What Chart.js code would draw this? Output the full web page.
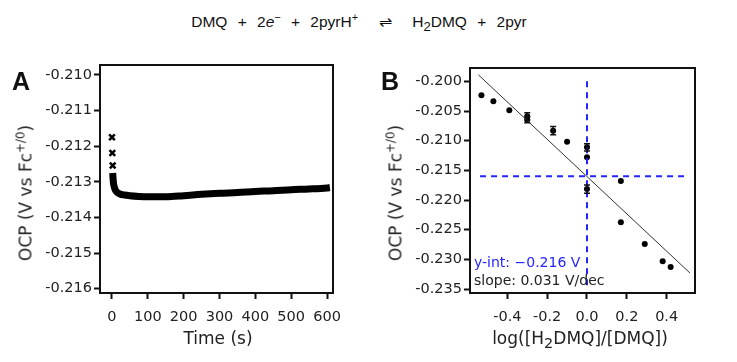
<!DOCTYPE html>
<html>
<head>
<meta charset="utf-8">
<script src="https://cdn.jsdelivr.net/npm/chart.js@4.4.1/dist/chart.umd.min.js"></script>
<style>
  html, body { margin: 0; padding: 0; background: #fff; }
  #wrap { position: relative; width: 737px; height: 362px; overflow: hidden; font-family: "DejaVu Sans", sans-serif; color: #222; }
  canvas { position: absolute; top: 0; }
  .lbl { position: absolute; white-space: nowrap; line-height: 1; }
  .rot { transform: translate(-50%, -50%) rotate(-90deg); font-size: 17px; }
  .xt { transform: translateX(-50%); font-size: 17px; }
  .sup { font-size: 0.7em; position: relative; top: -0.55em; }
  .sub { font-size: 0.85em; position: relative; top: 0.3em; }
  .panel { font-family: "Liberation Sans", Arial, sans-serif; font-weight: bold; font-size: 25px; color: #111; }
</style>
</head>
<body>
<div id="wrap">
  <div class="lbl" id="eq" style="left:0;width:718px;top:14px;text-align:center;font-family:'Liberation Sans',Arial,sans-serif;font-size:15.5px;line-height:15px;word-spacing:6px;color:#111">
    DMQ + 2<i>e</i><span class="sup">−</span> + 2pyrH<span class="sup">+</span> &nbsp;⇌&nbsp; H<span class="sub">2</span>DMQ + 2pyr
  </div>
  <canvas id="chartA" width="368" height="362" style="left:0"></canvas>
  <canvas id="chartB" width="369" height="362" style="left:368px"></canvas>
  <div class="lbl panel" style="left:12px;top:69px">A</div>
  <div class="lbl panel" style="left:381px;top:69px">B</div>
  <div class="lbl rot" style="left:26px;top:193px">OCP (V vs Fc<span class="sup">+/0</span>)</div>
  <div class="lbl rot" style="left:396px;top:193px">OCP (V vs Fc<span class="sup">+/0</span>)</div>
  <div class="lbl xt" style="left:218px;top:330px">Time (s)</div>
  <div class="lbl xt" style="left:580px;top:330px">log([H<span class="sub">2</span>DMQ]/[DMQ])</div>
  <div class="lbl" style="left:474px;top:255px;font-size:14px;color:#2424ff">y-int: −0.216 V</div>
  <div class="lbl" style="left:474px;top:273px;font-size:14px;color:#222">slope: 0.031 V/dec</div>
</div>
<script>
// panel A: OCP vs time
const timeTicks = [0, 100, 200, 300, 400, 500, 600];
const ocpTicksA = [-0.216, -0.215, -0.214, -0.213, -0.212, -0.211, -0.210];
const firstTimes = [0, 1, 2];
const firstOcp = [-0.21175, -0.21219, -0.21254];
const traceTimes = [2, 3, 4, 6, 9, 14, 22, 35, 50, 75, 100, 150, 200, 250, 300, 350, 400, 450, 500, 550, 600, 608];
const traceOcp = [-0.21275, -0.21290, -0.21302, -0.21313, -0.21322, -0.21329, -0.21334, -0.21337, -0.21339, -0.21341, -0.21342,
  -0.21342, -0.21339, -0.21335, -0.21332, -0.21330, -0.21327, -0.21325, -0.21322, -0.21320, -0.21317, -0.21316];

// panel B: OCP vs log ratio
const logTicks = [-0.4, -0.2, 0, 0.2, 0.4];
const ocpTicksB = [-0.235, -0.230, -0.225, -0.220, -0.215, -0.210, -0.205, -0.200];
const logRatio = [-0.53, -0.47, -0.39, -0.30, -0.30, -0.17, -0.10, 0, 0, 0, 0.17, 0.17, 0.29, 0.38, 0.42];
const ocpB = [-0.20236, -0.20337, -0.20489, -0.20590, -0.20646, -0.20831, -0.21017, -0.21112, -0.21281, -0.21815,
  -0.21680, -0.22376, -0.22742, -0.23034, -0.23129];
const ocpErr = [0, 0, 0, 0.0006, 0.0005, 0.0007, 0, 0.0006, 0, 0.0007, 0, 0, 0, 0, 0];
const fitX = [-0.546, 0.517];
const fitY = [-0.19888, -0.2323];
const vGuideX = [0, 0];
const vGuideY = [-0.2000, -0.2350];
const hGuideX = [-0.537, 0.500];
const hGuideY = [-0.216, -0.216];

const tickFont = { family: 'DejaVu Sans', size: 14.5 };
const toXY = (xs, ys) => xs.map((x, i) => ({ x, y: ys[i] }));

const frame = {
  id: 'frame',
  afterDatasetsDraw(chart) {
    const { ctx, chartArea: a } = chart;
    ctx.save();
    ctx.strokeStyle = '#111';
    ctx.lineWidth = 2;
    ctx.strokeRect(a.left, a.top, a.right - a.left, a.bottom - a.top);
    ctx.restore();
  },
};

const errorBars = {
  id: 'errorBars',
  afterDatasetsDraw(chart) {
    const { ctx } = chart;
    const xs = chart.scales.x;
    const ys = chart.scales.y;
    ctx.save();
    ctx.strokeStyle = '#111';
    ctx.lineWidth = 1.5;
    logRatio.forEach((x, i) => {
      if (!ocpErr[i]) return;
      const px = xs.getPixelForValue(x);
      const top = ys.getPixelForValue(ocpB[i] + ocpErr[i]);
      const bot = ys.getPixelForValue(ocpB[i] - ocpErr[i]);
      ctx.beginPath();
      ctx.moveTo(px, top); ctx.lineTo(px, bot);
      ctx.moveTo(px - 3, top); ctx.lineTo(px + 3, top);
      ctx.moveTo(px - 3, bot); ctx.lineTo(px + 3, bot);
      ctx.stroke();
    });
    ctx.restore();
  },
};

const axis = (min, max, values, fmt, extra) => ({
  type: 'linear',
  min,
  max,
  afterBuildTicks: (s) => { s.ticks = values.map((v) => ({ value: v })); },
  ticks: { callback: fmt, font: tickFont, color: '#222', autoSkip: false, maxRotation: 0, ...extra.ticks },
  grid: { drawOnChartArea: false, drawTicks: true, tickLength: 6, tickWidth: 2, tickColor: '#111' },
  border: { display: false },
  afterFit: extra.afterFit,
});

new Chart(document.getElementById('chartA'), {
  type: 'scatter',
  data: {
    datasets: [
      {
        type: 'line',
        data: toXY(traceTimes, traceOcp),
        borderColor: '#000',
        borderWidth: 7,
        cubicInterpolationMode: 'monotone',
        pointRadius: 0,
      },
      {
        data: toXY(firstTimes, firstOcp),
        pointStyle: 'crossRot',
        pointRadius: 4,
        borderColor: '#000',
        borderWidth: 2.5,
      },
    ],
  },
  options: {
    responsive: false,
    animation: false,
    layout: { padding: { top: 65, right: 35, left: 0, bottom: 0 } },
    plugins: { legend: { display: false }, tooltip: { enabled: false } },
    scales: {
      x: axis(-33.4, 616.7, timeTicks, (v) => String(v), { ticks: { padding: 10 }, afterFit: (s) => { s.height = 69; } }),
      y: axis(-0.21612, -0.20972, ocpTicksA, (v) => v.toFixed(3), { ticks: { padding: 2 }, afterFit: (s) => { s.width = 100; } }),
    },
  },
  plugins: [frame],
});

new Chart(document.getElementById('chartB'), {
  type: 'scatter',
  data: {
    datasets: [
      {
        type: 'line',
        data: toXY(vGuideX, vGuideY),
        borderColor: '#2424ff',
        borderWidth: 2,
        borderDash: [6, 5],
        pointRadius: 0,
      },
      {
        type: 'line',
        data: toXY(hGuideX, hGuideY),
        borderColor: '#2424ff',
        borderWidth: 2,
        borderDash: [6, 5],
        pointRadius: 0,
      },
      {
        type: 'line',
        data: toXY(fitX, fitY),
        borderColor: '#333',
        borderWidth: 1,
        pointRadius: 0,
      },
      {
        data: toXY(logRatio, ocpB),
        pointRadius: 3,
        backgroundColor: '#000',
        borderColor: '#000',
        borderWidth: 0,
      },
    ],
  },
  options: {
    responsive: false,
    animation: false,
    layout: { padding: { top: 68, right: 42, left: 0, bottom: 0 } },
    plugins: { legend: { display: false }, tooltip: { enabled: false } },
    scales: {
      x: axis(-0.5874, 0.5423, logTicks, (v) => v.toFixed(1), { ticks: { padding: 10 }, afterFit: (s) => { s.height = 69; } }),
      y: axis(-0.23567, -0.19775, ocpTicksB, (v) => v.toFixed(3), { ticks: { padding: 2 }, afterFit: (s) => { s.width = 102; } }),
    },
  },
  plugins: [frame, errorBars],
});
</script>
</body>
</html>
